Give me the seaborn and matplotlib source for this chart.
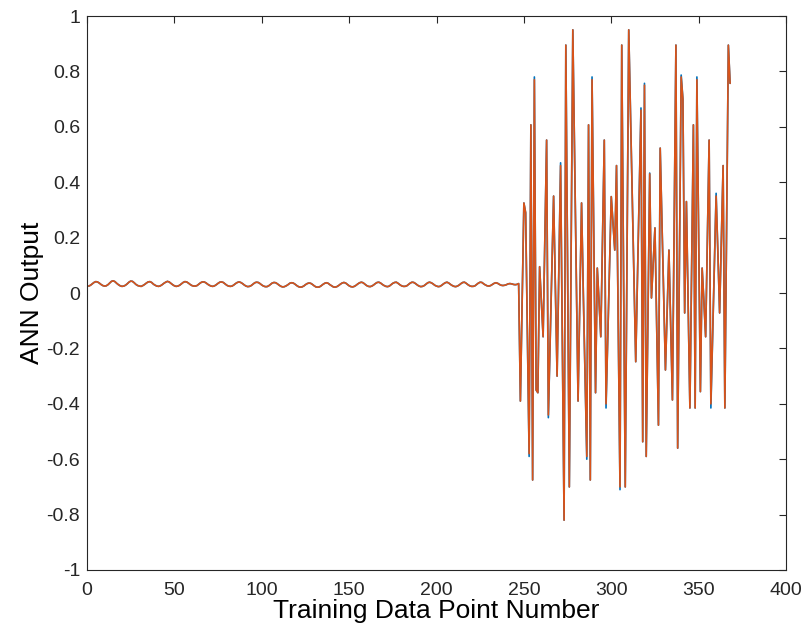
import numpy as np
import pandas as pd
import matplotlib
matplotlib.use("Agg")
import matplotlib.pyplot as plt
import seaborn as sns

# ---- data ----
flat_part = [
    0.025, 0.028, 0.033, 0.038, 0.041, 0.040, 0.036, 0.031, 0.027, 0.025, 0.026,
    0.030, 0.036, 0.042, 0.044, 0.041, 0.035, 0.030, 0.026, 0.024, 0.025, 0.028,
    0.033, 0.039, 0.043, 0.042, 0.037, 0.031, 0.027, 0.025, 0.024, 0.027, 0.031,
    0.036, 0.040, 0.041, 0.038, 0.032, 0.028, 0.025, 0.024, 0.026, 0.030, 0.035,
    0.039, 0.042, 0.040, 0.035, 0.030, 0.026, 0.024, 0.025, 0.028, 0.033, 0.038,
    0.041, 0.040, 0.036, 0.031, 0.027, 0.025, 0.025, 0.027, 0.032, 0.037, 0.040,
    0.040, 0.037, 0.032, 0.028, 0.025, 0.024, 0.026, 0.030, 0.035, 0.039, 0.040,
    0.038, 0.033, 0.028, 0.025, 0.024, 0.025, 0.029, 0.034, 0.038, 0.040, 0.038,
    0.034, 0.029, 0.025, 0.023, 0.024, 0.027, 0.032, 0.037, 0.039, 0.038, 0.034,
    0.029, 0.025, 0.023, 0.023, 0.026, 0.031, 0.036, 0.038, 0.037, 0.033, 0.028,
    0.024, 0.022, 0.023, 0.026, 0.030, 0.035, 0.037, 0.036, 0.032, 0.027, 0.023,
    0.021, 0.022, 0.025, 0.030, 0.034, 0.036, 0.035, 0.031, 0.026, 0.022, 0.021,
    0.022, 0.026, 0.031, 0.035, 0.037, 0.035, 0.030, 0.026, 0.022, 0.021, 0.023,
    0.027, 0.032, 0.036, 0.038, 0.036, 0.031, 0.026, 0.023, 0.022, 0.024, 0.028,
    0.033, 0.037, 0.039, 0.037, 0.032, 0.027, 0.024, 0.023, 0.025, 0.029, 0.034,
    0.038, 0.039, 0.036, 0.031, 0.027, 0.024, 0.023, 0.025, 0.030, 0.035, 0.038,
    0.039, 0.035, 0.030, 0.026, 0.024, 0.024, 0.026, 0.031, 0.036, 0.039, 0.038,
    0.034, 0.029, 0.025, 0.023, 0.024, 0.027, 0.032, 0.037, 0.039, 0.037, 0.033,
    0.028, 0.025, 0.023, 0.024, 0.028, 0.033, 0.037, 0.039, 0.036, 0.031, 0.027,
    0.024, 0.023, 0.025, 0.029, 0.034, 0.038, 0.039, 0.035, 0.030, 0.026, 0.024,
    0.024, 0.026, 0.031, 0.036, 0.039, 0.038, 0.033, 0.029, 0.026, 0.025, 0.027,
    0.031, 0.035, 0.037, 0.035, 0.031, 0.028, 0.027, 0.028, 0.030, 0.033, 0.034,
    0.033, 0.031, 0.030, 0.031, 0.034,
]

osc_part = [
    -0.39, -0.03, 0.325, 0.29, -0.15, -0.59, 0.607, -0.675, 0.78, -0.35,   # 248-257
    -0.36, 0.095, -0.03, -0.158, 0.20, 0.552, -0.45, -0.18, 0.08, 0.35,    # 258-267
    0.03, -0.30, 0.08, 0.47, -0.17, -0.82, 0.895, 0.10, -0.70, 0.12,       # 268-277
    0.95, 0.50, 0.06, -0.39, -0.03, 0.325, 0.00, -0.30, -0.60, 0.607,      # 278-287
    -0.675, 0.78, 0.20, -0.36, 0.09, -0.03, -0.158, 0.20, 0.552, -0.415,   # 288-297
    -0.16, 0.10, 0.348, 0.25, 0.155, 0.46, -0.12, -0.71, 0.895, 0.10,      # 298-307
    -0.70, 0.12, 0.95, 0.65, 0.35, 0.05, -0.248, 0.06, 0.36, 0.668,        # 308-317
    -0.537, 0.757, -0.59, -0.08, 0.433, -0.018, 0.11, 0.235, -0.12, -0.477,  # 318-327
    0.523, 0.25, -0.01, -0.278, -0.06, 0.155, -0.12, -0.386, 0.25, 0.895,  # 328-337
    -0.56, 0.11, 0.787, 0.70, -0.072, 0.33, -0.04, -0.415, 0.10, 0.607,    # 338-347
    -0.415, 0.78, 0.20, -0.356, 0.09, -0.03, -0.158, 0.20, 0.552, -0.415,  # 348-357
    -0.15, 0.10, 0.36, 0.15, -0.072, 0.20, 0.46, -0.415, 0.25, 0.895,      # 358-367
    0.757,                                                                  # 368
]

target = flat_part + osc_part
point_number = list(range(1, len(target) + 1))

# points where the ANN output differs slightly from the target (index: value)
output_diffs = {253: -0.58, 256: 0.77, 264: -0.44, 271: 0.46, 286: -0.59,
                289: 0.77, 297: -0.40, 305: -0.70, 317: 0.66, 319: 0.75,
                322: 0.43, 340: 0.78, 349: 0.77, 357: -0.40, 360: 0.35}
ann_output = [output_diffs.get(i, v) for i, v in zip(point_number, target)]

x_ticks = [0, 50, 100, 150, 200, 250, 300, 350, 400]
y_ticks = [-1, -0.8, -0.6, -0.4, -0.2, 0, 0.2, 0.4, 0.6, 0.8, 1]
y_tick_labels = ["-1", "-0.8", "-0.6", "-0.4", "-0.2", "0", "0.2", "0.4", "0.6", "0.8", "1"]

df = pd.DataFrame({
    "x": point_number * 2,
    "y": target + ann_output,
    "series": ["Target"] * len(target) + ["ANN"] * len(ann_output),
})

# ---- plotting ----
sns.set_style("white")
plt.rcParams["font.family"] = ["Liberation Sans", "DejaVu Sans"]
plt.rcParams["axes.unicode_minus"] = False

fig = plt.figure(figsize=(8.1, 6.36), dpi=100)
ax = fig.add_axes([0.1074, 0.1038, 0.8630, 0.8710])

sns.lineplot(data=df, x="x", y="y", hue="series",
             palette={"Target": "#0072BD", "ANN": "#D95319"},
             hue_order=["Target", "ANN"], linewidth=1.2, legend=False,
             ax=ax, estimator=None)

ax.set_xlim(0, 400)
ax.set_ylim(-1, 1)
ax.set_xticks(x_ticks)
ax.set_yticks(y_ticks)
ax.set_yticklabels(y_tick_labels)
ax.set_xlabel("Training Data Point Number", fontsize=19, labelpad=0, color="black")
ax.set_ylabel("ANN Output", fontsize=19, labelpad=2, color="black")
ax.tick_params(axis="both", which="major", direction="in", length=5,
               width=0.8, labelsize=14, colors="#262626",
               top=True, right=True, labeltop=False, labelright=False)
ax.tick_params(axis="x", pad=9)
ax.tick_params(axis="y", pad=5)
for s in ax.spines.values():
    s.set_visible(True)
    s.set_color("#262626")
    s.set_linewidth(0.8)

fig.savefig("out.png", dpi=100, facecolor="white")
